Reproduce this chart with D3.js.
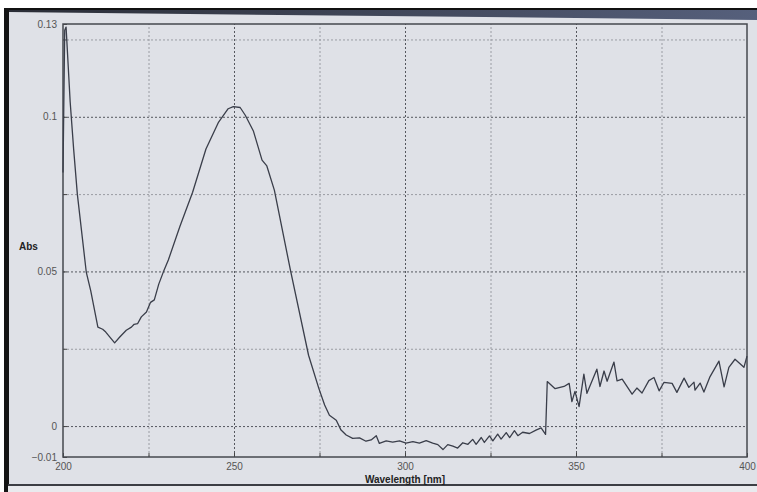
<!DOCTYPE html>
<html>
<head>
<meta charset="utf-8">
<script src="https://cdn.jsdelivr.net/npm/d3@7"></script>
<style>
  body { margin: 0; background: #fff; }
  .tick text { font-family: "Liberation Sans", Arial, sans-serif; font-size: 10px; fill: #555; }
  .title { font-family: "Liberation Sans", Arial, sans-serif; font-size: 10px; font-weight: bold; fill: #222; }
</style>
</head>
<body>
<div class="chart"></div>
<script>
// UV spectrum
const wavelength = [
  200.0, 200.5, 200.9, 202.1, 203.1, 204.2, 206.8, 208.1, 210.2, 211.6,
  212.5, 215.1, 216.6, 218.5, 220.0, 220.8, 221.8, 222.9, 224.4, 225.6,
  226.7, 228.0, 229.3, 230.8, 234.2, 237.9, 241.8, 245.5, 248.3, 249.8,
  251.8, 253.3, 255.7, 258.2, 259.6, 261.8, 266.5, 271.8, 274.8, 276.5,
  277.9, 279.9, 281.3, 282.8, 284.7, 286.7, 288.6, 290.1, 291.6, 292.5,
  294.5, 296.4, 298.4, 300.3, 302.3, 304.2, 306.2, 308.1, 309.6, 311.1,
  312.5, 314.0, 315.4, 316.9, 318.4, 319.8, 320.8, 322.3, 323.2, 324.7,
  325.7, 327.1, 328.1, 329.6, 330.6, 332.0, 333.0, 334.4, 336.4, 338.3,
  339.8, 341.1, 341.6, 343.9, 346.5, 348.0, 348.8, 349.7, 350.9, 352.3,
  353.2, 356.1, 357.0, 358.2, 359.1, 361.1, 362.0, 363.5, 366.4, 367.8,
  369.3, 371.3, 372.8, 374.3, 375.7, 378.1, 379.5, 381.6, 383.0, 384.5,
  384.8, 386.3, 387.4, 389.2, 391.8, 393.3, 394.7, 396.5, 399.1, 400.0
]
const absorbance = [
  0.082, 0.128, 0.129, 0.1048, 0.0897, 0.0749, 0.0498, 0.0438, 0.032, 0.0313,
  0.0304, 0.0269, 0.0288, 0.031, 0.032, 0.0329, 0.0331, 0.0353, 0.0369, 0.040,
  0.0408, 0.0459, 0.0497, 0.0537, 0.0646, 0.0756, 0.0896, 0.0983, 0.1026, 0.1033,
  0.1030, 0.1005, 0.0953, 0.086, 0.0841, 0.0763, 0.0504, 0.0229, 0.0122, 0.0068,
  0.0035, 0.0019, -0.0013, -0.0029, -0.004, -0.0038, -0.0049, -0.0045, -0.0031, -0.0056,
  -0.0048, -0.0052, -0.0048, -0.0055, -0.005, -0.0055, -0.0047, -0.0055, -0.006, -0.0076,
  -0.006, -0.0065, -0.0071, -0.0054, -0.0059, -0.0043, -0.0059, -0.0037, -0.0053, -0.0032,
  -0.0048, -0.0026, -0.0042, -0.0021, -0.0037, -0.0015, -0.0031, -0.002, -0.0024, -0.0013,
  -0.0006, -0.0027, 0.0144, 0.0121, 0.0128, 0.0138, 0.0079, 0.0112, 0.0063, 0.0168,
  0.0106, 0.0184, 0.0128, 0.0178, 0.0145, 0.0207, 0.0146, 0.0152, 0.0103, 0.0123,
  0.0107, 0.0147, 0.0157, 0.0114, 0.0141, 0.0138, 0.0109, 0.0155, 0.0125, 0.0142,
  0.0116, 0.0139, 0.011, 0.016, 0.021, 0.0127, 0.019, 0.0216, 0.019, 0.0226
]

const xLabels = [200, 250, 300, 350, 400]
const xGrid = [225, 250, 275, 300, 325, 350, 375]
const yLabels = [-0.01, 0, 0.05, 0.1, 0.13]
const yMinor = [0.025, 0.075, 0.125]

let outerWidth = 757
let outerHeight = 492
let margin = {top: 24, bottom: 35, left: 63, right: 10}
let w = outerWidth - margin.left - margin.right
let h = outerHeight - margin.top - margin.bottom

const root = d3.select(".chart")
    .append("svg")
    .attr("width", outerWidth)
    .attr("height", outerHeight)
    .style("display", "block")

// the monitor behind the plot
const grad = root.append("defs").append("linearGradient")
    .attr("id", "band")
grad.append("stop").attr("offset", "0%").attr("stop-color", "#2a2d36")
grad.append("stop").attr("offset", "100%").attr("stop-color", "#56607c")

root.append("rect")
    .attr("x", 8).attr("y", 9)
    .attr("width", outerWidth - 8).attr("height", 477)
    .attr("fill", "#dfe1e7")
root.append("polygon")
    .attr("points", "8,9 757,9 757,20 8,12")
    .attr("fill", "url(#band)")
root.append("rect")
    .attr("x", 8).attr("y", 8).attr("width", outerWidth - 8).attr("height", 2)
    .attr("fill", "#111")
root.append("rect")
    .attr("x", 4).attr("y", 8).attr("width", 5).attr("height", 484)
    .attr("fill", "#141414")
root.append("rect")
    .attr("x", 8).attr("y", 484).attr("width", outerWidth - 8).attr("height", 2)
    .attr("fill", "#3c3e44")
root.append("rect")
    .attr("x", 8).attr("y", 486).attr("width", outerWidth - 8).attr("height", 6)
    .attr("fill", "#e9eaee")

const svg = root.append("g")
    .attr("transform", `translate(${margin.left}, ${margin.top})`)

const xScale = d3.scaleLinear()
    .domain([200, 400])
    .range([0, w])

const yScale = d3.scaleLinear()
    .domain([-0.01, 0.13])
    .range([h, 0])

// grid
svg.append("g")
    .attr("class", "grid")
    .call(d3.axisLeft(yScale).tickValues(yMinor).tickSize(-w).tickFormat(""))
    .call(g => g.select(".domain").remove())
    .call(g => g.selectAll("line").attr("stroke", "#9a9ca3").attr("stroke-dasharray", "2,2"))

svg.append("g")
    .attr("class", "grid")
    .call(d3.axisLeft(yScale).tickValues([0, 0.05, 0.1]).tickSize(-w).tickFormat(""))
    .call(g => g.select(".domain").remove())
    .call(g => g.selectAll("line").attr("stroke", "#55575e").attr("stroke-dasharray", "2,2"))

svg.append("g")
    .attr("class", "grid")
    .attr("transform", `translate(0, ${h})`)
    .call(d3.axisBottom(xScale).tickValues(xGrid).tickSize(-h).tickFormat(""))
    .call(g => g.select(".domain").remove())
    .call(g => g.selectAll("line")
        .attr("stroke", d => d % 50 == 0 ? "#55575e" : "#9a9ca3")
        .attr("stroke-dasharray", "2,2"))

// axes with short inward ticks
const yAxis = d3.axisLeft(yScale)
    .tickValues(yLabels.concat(yMinor))
    .tickSizeInner(-4)
    .tickSizeOuter(0)
    .tickPadding(6)
    .tickFormat(d => yLabels.includes(d) ? d3.format("")(d) : "")

const xAxis = d3.axisBottom(xScale)
    .tickValues(xLabels.concat([225, 275, 325, 375]))
    .tickSizeInner(-4)
    .tickSizeOuter(0)
    .tickPadding(6)
    .tickFormat(d => xLabels.includes(d) ? d : "")

svg.append("g")
    .attr("class", "axis y-axis")
    .call(yAxis)
    .call(g => g.selectAll("line").attr("stroke", "#444"))

svg.append("g")
    .attr("class", "axis x-axis")
    .attr("transform", `translate(0, ${h})`)
    .call(xAxis)
    .call(g => g.selectAll("line").attr("stroke", "#444"))

svg.selectAll(".domain").remove()

svg.append("rect")
    .attr("width", w)
    .attr("height", h)
    .attr("fill", "none")
    .attr("stroke", "#46484f")
    .attr("stroke-width", 1.5)

// spectrum
const points = wavelength.map((d, i) => [d, absorbance[i]])

const line = d3.line()
    .x(d => xScale(d[0]))
    .y(d => yScale(d[1]))

svg.append("path")
    .datum(points)
    .attr("fill", "none")
    .attr("stroke", "#3a3e4a")
    .attr("stroke-width", 1.3)
    .attr("stroke-linejoin", "round")
    .attr("d", line)

svg.append("text")
    .attr("class", "title")
    .attr("x", xScale(300))
    .attr("y", h + 26)
    .attr("text-anchor", "middle")
    .text("Wavelength [nm]")

svg.append("text")
    .attr("class", "title")
    .attr("x", -44)
    .attr("y", yScale(0.057))
    .text("Abs")
</script>
</body>
</html>
